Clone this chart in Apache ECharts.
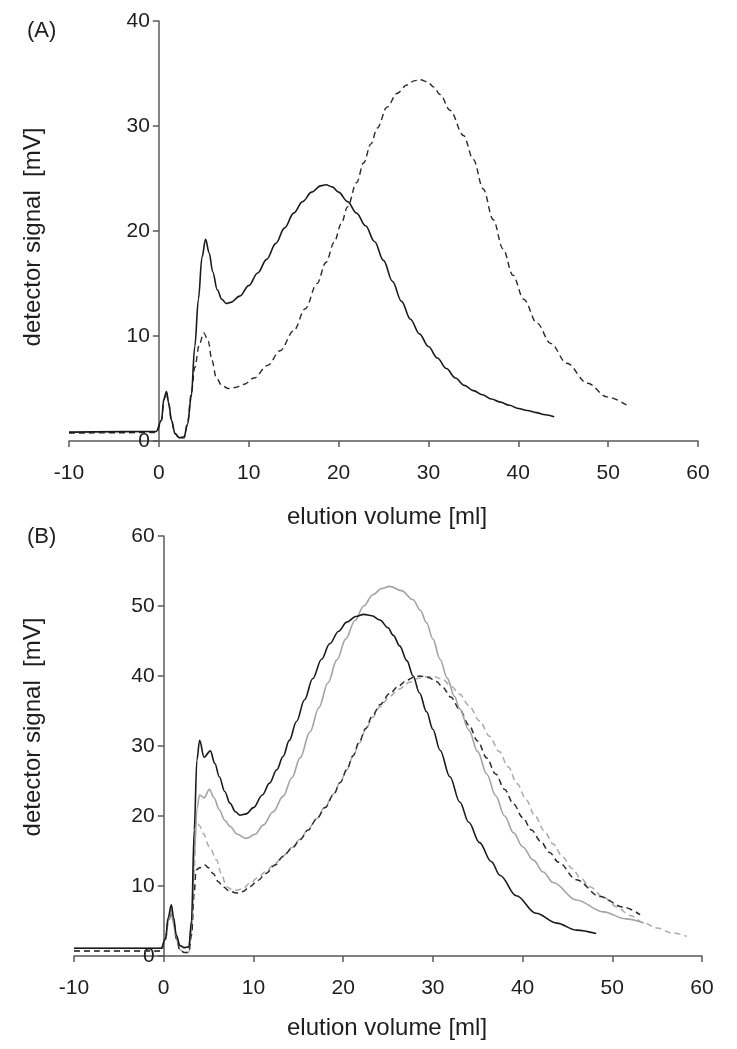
<!DOCTYPE html>
<html>
<head>
<meta charset="utf-8">
<script src="https://cdn.jsdelivr.net/npm/echarts@6/dist/echarts.min.js"></script>
<style>
  html, body { margin: 0; padding: 0; background: #fff; }
  #chart { width: 737px; height: 1049px; }
</style>
</head>
<body>
<div id="chart"></div>
<script>
// ---------- DATA ----------
const xTicks = [-10, 0, 10, 20, 30, 40, 50, 60];
const yTicksA = [0, 10, 20, 30, 40];
const yTicksB = [0, 10, 20, 30, 40, 50, 60];

// Panel A: [elution volume ml, detector signal mV]
const panelA_solid = [
  [-10,0.85],[-0.3,0.9],[0.3,2.0],[0.55,4.0],[0.85,4.7],[1.1,3.6],[1.4,2.0],[1.8,0.7],[2.3,0.3],[2.8,0.4],
  [3.2,1.6],[3.6,4.2],[4.0,9.0],[4.4,13.5],[4.8,17.5],[5.2,19.2],[5.6,17.9],[6.0,16.1],[6.5,14.4],[7.0,13.5],
  [7.5,13.1],[8.0,13.2],[9,13.8],[10,14.8],[11,16.0],[12,17.3],[13,18.8],[14,20.3],[15,21.7],[16,22.8],
  [17,23.7],[18,24.3],[18.6,24.4],[19.3,24.2],[20,23.7],[21,22.8],[22,21.7],[23,20.5],[24,19.0],[25,17.2],
  [26,15.2],[27,13.3],[28,11.6],[29,10.2],[30,9.0],[31,7.9],[32,6.9],[33,6.0],[34,5.3],[35,4.8],
  [36,4.4],[37,4.0],[38,3.7],[39,3.4],[40,3.1],[41,2.9],[42,2.7],[43,2.5],[44,2.3]
];
const panelA_dashed = [
  [-10,0.75],[-0.3,0.8],[0.3,1.9],[0.55,3.9],[0.85,4.6],[1.1,3.5],[1.4,1.9],[1.8,0.7],[2.3,0.25],[2.8,0.3],
  [3.2,1.8],[3.6,4.5],[4.0,7.0],[4.5,9.2],[5.0,10.3],[5.5,9.5],[5.9,7.7],[6.4,6.0],[7.0,5.3],[7.7,5.0],
  [8.5,5.1],[9.5,5.4],[10.6,6.0],[12.1,7.2],[13.5,8.6],[15.0,10.5],[16.3,12.6],[17.6,15.0],[18.6,17.0],[19.5,18.9],
  [20.3,20.7],[21.0,22.3],[22.0,24.6],[22.8,26.5],[23.6,28.3],[24.3,29.8],[25.4,31.8],[26.5,33.1],[27.6,33.9],[28.4,34.3],
  [29.1,34.4],[29.9,34.2],[30.6,33.7],[31.3,33.0],[32.4,31.5],[33.9,29.1],[35.0,26.8],[36.1,24.0],[37.2,21.1],[38.3,18.3],
  [39.4,15.8],[40.6,13.5],[42.1,11.2],[43.6,9.3],[45.4,7.4],[47.7,5.5],[49.9,4.2],[52.1,3.4]
];

// Panel B
const panelB_blackSolid = [
  [-10,1.1],[-0.3,1.1],[0.2,2.5],[0.5,5.5],[0.85,7.3],[1.1,5.5],[1.4,3.0],[1.8,1.5],[2.3,1.2],[2.8,1.3],
  [3.1,5.0],[3.4,18.0],[3.7,28.0],[4.0,30.8],[4.5,28.4],[5.2,29.3],[5.7,27.5],[6.2,25.6],[6.8,23.5],[7.4,21.8],
  [8.0,20.6],[8.5,20.1],[9.2,20.3],[10.0,21.2],[11.0,23.0],[11.8,24.7],[12.6,26.6],[13.3,28.5],[14.0,30.8],[14.8,33.5],
  [15.7,36.6],[16.6,39.6],[17.6,42.4],[18.5,44.6],[19.5,46.4],[20.4,47.7],[21.4,48.5],[22.3,48.8],[23.2,48.6],[24.1,48.0],
  [25.0,46.9],[25.6,45.8],[26.3,44.3],[27.1,42.2],[27.8,40.0],[28.5,37.6],[29.3,34.9],[30.0,32.4],[30.8,29.4],[31.9,25.6],
  [33.0,22.0],[34.0,19.1],[35.2,16.2],[36.5,13.5],[37.5,11.5],[39.3,8.6],[41.5,6.1],[43.8,4.7],[46.0,3.7],[48.2,3.2]
];
const panelB_graySolid = [
  [-10,1.1],[-0.3,1.1],[0.2,2.3],[0.5,5.0],[0.85,6.6],[1.1,5.0],[1.4,2.8],[1.8,1.5],[2.3,1.2],[2.8,1.3],
  [3.1,4.5],[3.4,14.0],[3.7,21.0],[4.0,23.0],[4.5,22.6],[5.1,23.8],[5.6,22.6],[6.2,20.9],[6.8,19.4],[7.4,18.5],
  [8.2,17.4],[9.2,16.8],[10.2,17.4],[11.1,18.7],[12.2,20.6],[13.3,22.8],[14.3,25.5],[15.2,28.3],[16.3,32.0],[17.3,35.5],
  [18.3,39.0],[19.3,42.3],[20.3,45.3],[21.3,47.9],[22.3,50.0],[23.3,51.6],[24.3,52.5],[25.2,52.8],[26.5,52.2],[27.8,50.9],
  [28.6,49.4],[29.3,47.6],[30.0,45.3],[30.8,42.4],[31.6,39.7],[32.4,37.1],[33.0,35.3],[34.0,32.3],[35.0,29.2],[36.0,26.0],
  [37.0,22.9],[38.0,20.0],[39.0,17.6],[40.0,15.6],[41.2,13.7],[42.3,12.0],[43.4,10.5],[46.0,8.0],[49.0,6.3],[51.5,5.3],[53.5,4.7]
];
const panelB_blackDashed = [
  [-10,0.7],[-0.3,0.7],[0.2,2.3],[0.5,5.0],[0.85,6.3],[1.1,4.8],[1.4,2.5],[1.8,0.9],[2.3,0.5],[2.8,0.5],
  [3.1,3.0],[3.4,9.0],[3.6,12.3],[4.0,12.6],[4.6,13.0],[5.0,12.6],[5.5,11.8],[6.1,10.6],[6.6,9.9],[7.3,9.3],
  [8.1,9.0],[8.8,9.2],[9.6,9.9],[10.5,10.8],[11.4,11.8],[12.4,13.0],[13.3,14.2],[14.3,15.4],[15.2,16.6],[16.1,18.0],
  [17.0,19.5],[18.0,21.2],[18.9,23.0],[19.7,24.8],[20.4,26.6],[21.1,28.6],[21.8,30.6],[22.5,32.5],[23.3,34.4],[24.1,35.9],
  [25.2,37.5],[26.2,38.6],[27.1,39.4],[27.8,39.8],[28.5,40.0],[29.5,39.8],[30.4,39.2],[31.1,38.4],[32.0,37.0],[33.0,35.2],
  [34.0,33.0],[35.0,30.7],[36.0,28.3],[37.0,26.0],[38.0,23.8],[39.0,21.7],[40.0,19.8],[41.0,18.0],[42.0,16.4],[43.0,14.8],
  [44.0,13.4],[46.0,10.9],[48.6,8.5],[51.2,7.0],[53.1,5.9]
];
const panelB_grayDashed = [
  [-10,0.7],[-0.3,0.7],[0.2,2.2],[0.5,4.8],[0.85,6.0],[1.1,4.6],[1.4,2.4],[1.8,0.9],[2.3,0.5],[2.8,0.5],
  [3.1,3.5],[3.4,12.0],[3.6,19.4],[4.0,18.6],[4.4,17.5],[5.1,15.6],[5.9,13.7],[6.4,11.8],[7.0,9.9],[7.6,9.5],
  [8.1,9.4],[8.8,9.6],[9.6,10.4],[10.5,11.2],[11.4,12.1],[12.4,13.2],[13.3,14.3],[14.3,15.5],[15.2,16.7],[16.1,18.1],
  [17.0,19.6],[18.0,21.3],[18.9,23.1],[19.7,24.9],[20.4,26.6],[21.1,28.5],[21.8,30.4],[22.5,32.3],[23.3,34.1],[24.1,35.6],
  [25.2,37.1],[26.2,38.1],[27.4,39.1],[28.5,39.7],[29.3,39.9],[30.2,39.9],[31.1,39.5],[32.0,38.6],[33.0,37.4],[34.0,35.8],
  [35.2,33.6],[36.3,31.4],[37.4,29.2],[38.4,27.0],[39.4,24.6],[40.4,22.3],[41.4,20.0],[42.4,17.9],[43.4,16.0],[44.5,14.1],
  [45.5,12.5],[46.5,11.1],[47.5,9.9],[49.0,8.4],[50.5,7.0],[52.0,5.8],[53.4,4.8],[55.0,4.0],[56.7,3.3],[58.3,2.8]
];

// ---------- CHART ----------
const FONT = 'Liberation Sans, Arial, sans-serif';
const AXIS_COLOR = '#5a5a5a';
const TEXT_COLOR = '#1e1e1e';

function xAxisDef(gridIndex) {
  return {
    type: 'value', gridIndex,
    min: xTicks[0], max: xTicks[xTicks.length - 1], interval: 10,
    axisLine: { show: true, onZero: false, lineStyle: { color: AXIS_COLOR, width: 1.5 } },
    axisTick: { show: true, length: 6, lineStyle: { color: AXIS_COLOR, width: 1.5 } },
    axisLabel: { color: TEXT_COLOR, fontSize: 21, fontFamily: FONT, margin: 22 },
    splitLine: { show: false }
  };
}
// y axis sits on x = 0: shifted inward from the grid's left edge (x = -10) by one x interval
function yAxisDef(gridIndex, ticks, shift) {
  return {
    type: 'value', gridIndex,
    min: ticks[0], max: ticks[ticks.length - 1], interval: 10,
    offset: -shift,
    axisLine: { show: true, onZero: false, lineStyle: { color: AXIS_COLOR, width: 1.5 } },
    axisTick: { show: true, length: 6, lineStyle: { color: AXIS_COLOR, width: 1.5 } },
    axisLabel: { color: TEXT_COLOR, fontSize: 21, fontFamily: FONT, margin: 9 },
    splitLine: { show: false }
  };
}
function lineSeries(data, xi, color, dashed, width) {
  return {
    type: 'line', data, xAxisIndex: xi, yAxisIndex: xi,
    showSymbol: false, symbol: 'none', smooth: 0.35, smoothMonotone: 'x',
    lineStyle: { color, width: width || 1.5, type: dashed ? [6, 4] : 'solid' },
    z: dashed ? 2 : 3
  };
}

const gridA = { left: 69, right: 39, top: 21, height: 420 };
const gridB = { left: 74, right: 35, top: 536, height: 420 };
const shiftA = (737 - gridA.left - gridA.right) / 7;
const shiftB = (737 - gridB.left - gridB.right) / 7;

const chart = echarts.init(document.getElementById('chart'), null, { renderer: 'canvas' });
chart.setOption({
  animation: false,
  backgroundColor: '#ffffff',
  grid: [gridA, gridB],
  xAxis: [xAxisDef(0), xAxisDef(1)],
  yAxis: [yAxisDef(0, yTicksA, shiftA), yAxisDef(1, yTicksB, shiftB)],
  series: [
    lineSeries(panelA_dashed, 0, '#2a2a2a', true, 1.4),
    lineSeries(panelA_solid, 0, '#1a1a1a', false, 1.6),
    lineSeries(panelB_grayDashed, 1, '#aaaaaa', true, 1.5),
    lineSeries(panelB_blackDashed, 1, '#2a2a2a', true, 1.5),
    lineSeries(panelB_graySolid, 1, '#a3a3a3', false, 1.6),
    lineSeries(panelB_blackSolid, 1, '#1a1a1a', false, 1.6)
  ],
  graphic: [
    { type: 'text', left: 27, top: 20, style: { text: '(A)', font: '22px ' + FONT, fill: TEXT_COLOR } },
    { type: 'text', left: 27, top: 526, style: { text: '(B)', font: '22px ' + FONT, fill: TEXT_COLOR } },
    { type: 'text', x: 33, y: 237, rotation: Math.PI / 2,
      style: { text: 'detector signal  [mV]', font: '24px ' + FONT, fill: TEXT_COLOR, align: 'center', verticalAlign: 'middle' } },
    { type: 'text', x: 33, y: 727, rotation: Math.PI / 2,
      style: { text: 'detector signal  [mV]', font: '24px ' + FONT, fill: TEXT_COLOR, align: 'center', verticalAlign: 'middle' } },
    { type: 'text', x: 387, y: 517,
      style: { text: 'elution volume [ml]', font: '24px ' + FONT, fill: TEXT_COLOR, align: 'center', verticalAlign: 'middle' } },
    { type: 'text', x: 387, y: 1028,
      style: { text: 'elution volume [ml]', font: '24px ' + FONT, fill: TEXT_COLOR, align: 'center', verticalAlign: 'middle' } }
  ]
});
</script>
</body>
</html>
